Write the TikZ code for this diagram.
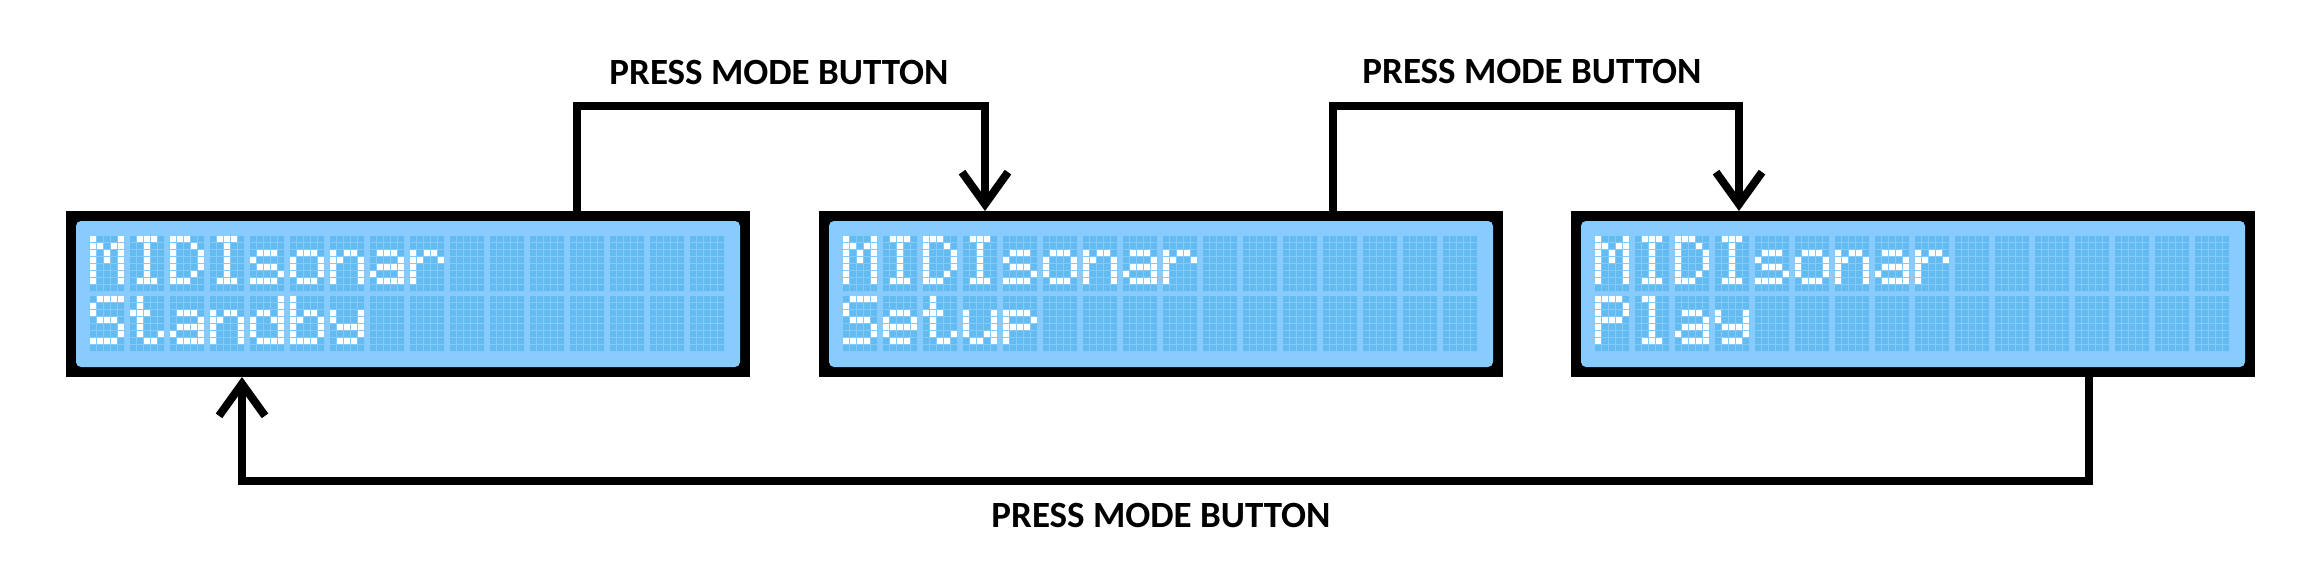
\documentclass[tikz,border=0pt]{standalone}
\usepackage{fontspec}
\newfontfamily\labelfont{Carlito}
\usetikzlibrary{arrows.meta}

\definecolor{lcdback}{RGB}{136,204,255}
\definecolor{lcddot}{RGB}{100,187,240}

\tikzset{
	lcd/.style={fill=black, inner sep=0pt, outer sep=0pt, minimum width=684pt, minimum height=166pt},
	screen/.style={fill=lcdback, rounded corners=5pt},
	dotoff/.style={fill=lcddot},
	doton/.style={fill=white},
	flow/.style={line width=8pt, -{Straight Barb[length=32pt, width=46pt]}},
	btntext/.style={font=\labelfont\bfseries\fontsize{37}{41}\selectfont, inner sep=0pt}
}

% 5x7 glyphs of the display, one row per entry:
\newcommand\defglyph[2]{\expandafter\def\csname lcdglyph#1\endcsname{#2}}
\defglyph{M}{10001,11011,10101,10101,10001,10001,10001}
\defglyph{I}{01110,00100,00100,00100,00100,00100,01110}
\defglyph{D}{11100,10010,10001,10001,10001,10010,11100}
\defglyph{s}{00000,00000,01110,10000,01110,00001,11110}
\defglyph{o}{00000,00000,01110,10001,10001,10001,01110}
\defglyph{n}{00000,00000,10110,11001,10001,10001,10001}
\defglyph{a}{00000,00000,01110,00001,01111,10001,01111}
\defglyph{r}{00000,00000,10110,11001,10000,10000,10000}
\defglyph{S}{01111,10000,10000,01110,00001,00001,11110}
\defglyph{t}{01000,01000,11100,01000,01000,01001,00110}
\defglyph{d}{00001,00001,01101,10011,10001,10001,01111}
\defglyph{b}{10000,10000,10110,11001,10001,10001,11110}
\defglyph{y}{00000,00000,10001,10001,01111,00001,01110}
\defglyph{e}{00000,00000,01110,10001,11111,10000,01110}
\defglyph{u}{00000,00000,10001,10001,10001,10011,01101}
\defglyph{p}{00000,00000,11110,10001,11110,10000,10000}
\defglyph{P}{11110,10001,10001,11110,10000,10000,10000}
\defglyph{l}{01100,00100,00100,00100,00100,00100,01110}

% Light the dots of one glyph row:
\newcommand\litrow[5]{%
	\foreach \bit [count=\dx from 0] in {#1,#2,#3,#4,#5}{%
		\ifnum\bit=1 \fill[doton] (\chr*40+\dx*7, \lin*60+\ry*7) rectangle ++(6,6);\fi
	}}

% Write the characters #2 on line #1:
\newcommand\lcdline[2]{%
	\def\lin{#1}%
	\foreach \ch [count=\chr from 0] in {#2}{%
		\edef\glyphrows{\csname lcdglyph\ch\endcsname}%
		\foreach \glyphrow [count=\ry from 0] in \glyphrows{%
			\expandafter\litrow\glyphrow
		}}}

% Draw the unlit 16x2 dot grid:
\newcommand\lcdgrid{%
	\fill[dotoff] \foreach \lin in {0,1}{\foreach \chr in {0,...,15}{\foreach \dx in {0,...,4}{\foreach \dy in {0,...,7}{
		(\chr*40+\dx*7, \lin*60+\dy*7) rectangle ++(6,6)}}}};}

\begin{document}
\begin{tikzpicture}[x=1pt, y=-1pt]
	\useasboundingbox (0,0) rectangle (2319,586);
	% Specify the positions of the displays:
	\coordinate (P0) at (408,294);
	\coordinate (P1) at (1161,294);
	\coordinate (P2) at (1913,294);
	\node[lcd] (standby) at (P0) {};
	\node[lcd] (setup) at (P1) {};
	\node[lcd] (play) at (P2) {};
	% Draw the screens:
	\foreach \n in {standby,setup,play}
		\fill[screen] ([shift={(10,10)}]\n.north west) rectangle ([shift={(-10,-10)}]\n.south east);
	% Specify the positions of the dot grids:
	\coordinate (G0) at (90,236);
	\coordinate (G1) at (843,236);
	\coordinate (G2) at (1595,236);
	% Draw the dots and the characters:
	\begin{scope}[shift={(G0)}]
		\lcdgrid
		\lcdline{0}{M,I,D,I,s,o,n,a,r}
		\lcdline{1}{S,t,a,n,d,b,y}
	\end{scope}
	\begin{scope}[shift={(G1)}]
		\lcdgrid
		\lcdline{0}{M,I,D,I,s,o,n,a,r}
		\lcdline{1}{S,e,t,u,p}
	\end{scope}
	\begin{scope}[shift={(G2)}]
		\lcdgrid
		\lcdline{0}{M,I,D,I,s,o,n,a,r}
		\lcdline{1}{P,l,a,y}
	\end{scope}
	% Specify the bends of the connectors:
	\coordinate (T0) at (577,106);
	\coordinate (T1) at (985,106);
	\coordinate (T2) at (1333,106);
	\coordinate (T3) at (1739,106);
	\coordinate (B0) at (2089,481);
	\coordinate (B1) at (242,481);
	% Draw the connectors:
	\draw[flow] (T0 |- standby.north) -- (T0) -- (T1) -- (T1 |- setup.north);
	\draw[flow] (T2 |- setup.north) -- (T2) -- (T3) -- (T3 |- play.north);
	\draw[flow] (B0 |- play.south) -- (B0) -- (B1) -- (B1 |- standby.south);
	% Place the labels:
	\node[btntext] (press0) at (779,73) {PRESS MODE BUTTON};
	\node[btntext] (press1) at (1532,72) {PRESS MODE BUTTON};
	\node[btntext] (press2) at (1161,515) {PRESS MODE BUTTON};
\end{tikzpicture}
\end{document}
